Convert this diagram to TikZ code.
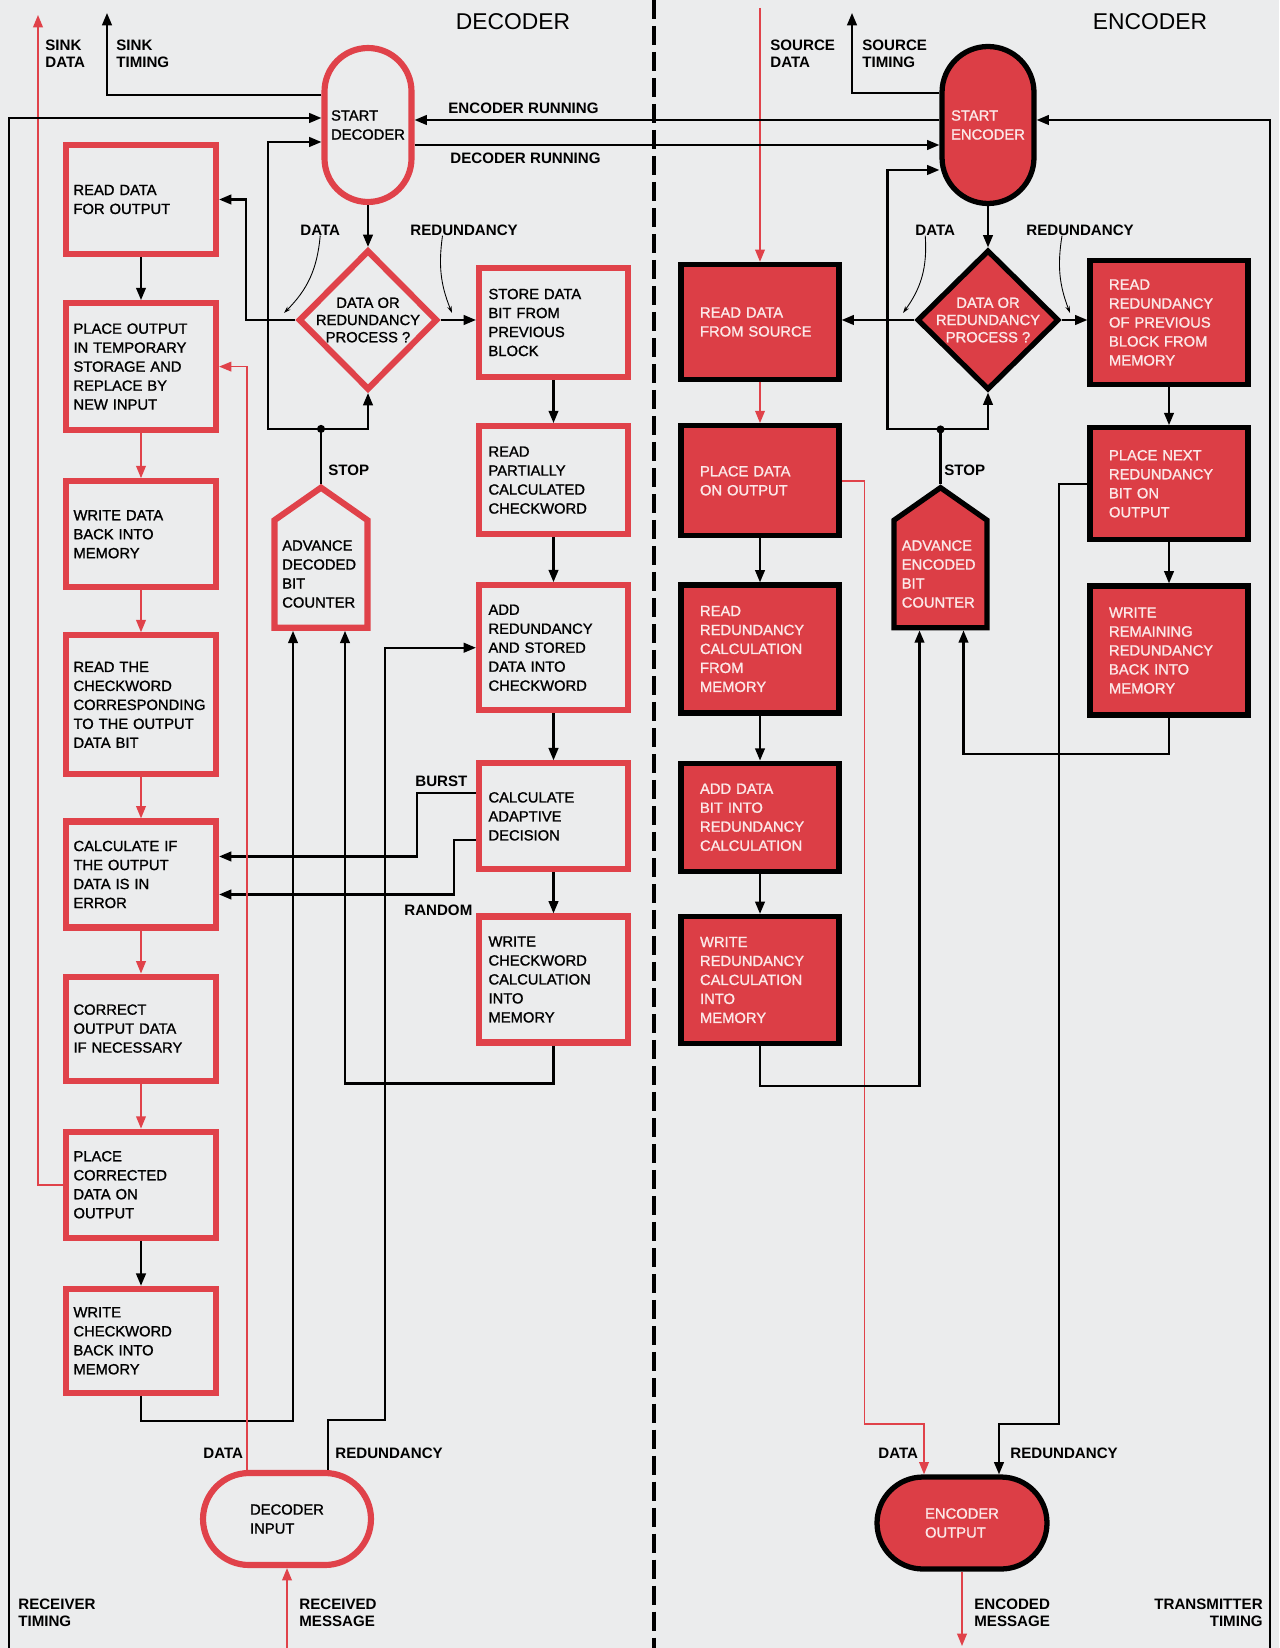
\documentclass[tikz,border=0pt]{standalone}
\usepackage{fontspec}
\setmainfont{Liberation Sans}
\usepackage{xcolor}
\usepackage{tikz}
\usetikzlibrary{calc, positioning, shapes.geometric, shapes.symbols, arrows.meta}

\definecolor{paper}{RGB}{235,236,237}
\definecolor{dred}{RGB}{224,66,74}
\definecolor{ered}{RGB}{220,62,70}
\definecolor{etext}{RGB}{252,232,232}

\begin{document}
\begin{tikzpicture}[x=0.02cm, y=-0.02cm, >={Stealth[length=7pt,width=5.5pt,inset=0pt]},
    boxtext/.style={font=\fontsize{8.4}{10.8}\selectfont\addfontfeature{FakeBold=1.2}, align=left},
    dbox/.style={boxtext, draw=dred, line width=3.5pt, text width=2.7cm, inner xsep=0.15cm, minimum width=3cm},
    dboxr/.style={dbox, text width=2.6cm, inner xsep=0.19cm, minimum width=2.98cm},
    ebox/.style={boxtext, draw=black, line width=3pt, fill=ered, text=etext, text width=2.4cm, inner xsep=0.38cm, minimum width=3.16cm},
    dstart/.style={boxtext, draw=dred, line width=3.5pt, rounded corners=0.87cm, minimum width=1.74cm, minimum height=3.08cm},
    estart/.style={boxtext, draw=black, line width=3pt, fill=ered, text=etext, rounded corners=0.92cm, minimum width=1.84cm, minimum height=3.14cm},
    ddiam/.style={diamond, aspect=1, draw=dred, line width=3.5pt, font=\fontsize{8.4}{9.8}\selectfont\addfontfeature{FakeBold=1.2}, align=center, inner sep=-4pt, minimum width=2.78cm, minimum height=2.8cm},
    ediam/.style={ddiam, draw=black, line width=3pt, fill=ered, text=etext, minimum width=2.84cm},
    dcount/.style={signal, signal to=north, signal from=nowhere, signal pointer angle=110, boxtext, draw=dred, line width=3.5pt, text width=1.55cm, inner xsep=0.15cm, minimum width=1.86cm, minimum height=2.8cm},
    ecount/.style={dcount, draw=black, line width=3pt, fill=ered, text=etext},
    lbl/.style={font=\fontsize{8.6}{9.6}\selectfont\bfseries, inner sep=0pt, anchor=west, align=left},
    ttl/.style={font=\fontsize{13}{15}\selectfont, inner sep=0pt},
    flow/.style={line width=1.2pt},
    rflow/.style={draw=dred, line width=0.9pt},
    ptr/.style={line width=0.5pt, -{Stealth[length=4pt,width=2.5pt]}}]

  \useasboundingbox (0,0) rectangle (1279,1648);
  \fill[paper] (0,0) rectangle (1279,1648);

  % divider between the two halves
  \draw[line width=1.8pt, dash pattern=on 0.38cm off 0.14cm] (654,0) -- (654,1648);

  \node[ttl] (dec_title) at (513,22) {DECODER};
  \node[ttl] (enc_title) at (1150,22) {ENCODER};

  % ---------------- decoder ----------------
  \node[dstart] (start_dec) at (368,125) {START\\DECODER};
  \node[ddiam] (diam_d) at (368,320) {DATA OR\\REDUNDANCY\\PROCESS ?};
  \node[dcount] (counter_d) at (321,574) {ADVANCE\\DECODED\\BIT\\COUNTER};

  \node[dbox, minimum height=2.18cm] (rd_out) at (141,199.5) {READ DATA\\FOR OUTPUT};
  \node[dbox, minimum height=2.54cm, below=0.86cm of rd_out] (place_out) {PLACE OUTPUT\\IN TEMPORARY\\STORAGE AND\\REPLACE BY\\NEW INPUT};
  \node[dbox, minimum height=2.12cm, below=0.9cm of place_out] (wr_data) {WRITE DATA\\BACK INTO\\MEMORY};
  \node[dbox, minimum height=2.78cm, below=0.84cm of wr_data] (rd_chk) {READ THE\\CHECKWORD\\CORRESPONDING\\TO THE OUTPUT\\DATA BIT};
  \node[dbox, minimum height=2.12cm, below=0.82cm of rd_chk] (calc_err) {CALCULATE IF\\THE OUTPUT\\DATA IS IN\\ERROR};
  \node[dbox, minimum height=2.08cm, below=0.86cm of calc_err] (correct) {CORRECT\\OUTPUT DATA\\IF NECESSARY};
  \node[dbox, minimum height=2.12cm, below=0.9cm of correct] (place_corr) {PLACE\\CORRECTED\\DATA ON\\OUTPUT};
  \node[dbox, minimum height=2.08cm, below=0.9cm of place_corr] (wr_chk) {WRITE\\CHECKWORD\\BACK INTO\\MEMORY};

  \node[dboxr, minimum height=2.18cm] (store_bit) at (553.5,322.5) {STORE DATA\\BIT FROM\\PREVIOUS\\BLOCK};
  \node[dboxr, minimum height=2.16cm, below=0.86cm of store_bit] (rd_part) {READ\\PARTIALLY\\CALCULATED\\CHECKWORD};
  \node[dboxr, minimum height=2.5cm, below=0.9cm of rd_part] (add_red) {ADD\\REDUNDANCY\\AND STORED\\DATA INTO\\CHECKWORD};
  \node[dboxr, minimum height=2.12cm, below=0.94cm of add_red] (calc_adapt) {CALCULATE\\ADAPTIVE\\DECISION};
  \node[dboxr, minimum height=2.52cm, below=0.82cm of calc_adapt] (wr_calc) {WRITE\\CHECKWORD\\CALCULATION\\INTO\\MEMORY};

  \node[dstart, rounded corners=0.92cm, minimum width=3.36cm, minimum height=1.84cm] (dec_in) at (287,1519) {DECODER\\INPUT};

  \coordinate (sink_d) at (38,15);
  \coordinate (sink_t) at (107,13);
  \coordinate (rx_t) at (9,1650);
  \coordinate (rcv_m) at (287,1650);
  \coordinate (data_dp) at (284,313);
  \coordinate (red_dp) at (452,313);
  \coordinate (stop_d) at ([yshift=1.1cm]counter_d.north);

  \node[lbl] (sink_dl) at (45,54) {SINK\\DATA};
  \node[lbl] (sink_tl) at (116,54) {SINK\\TIMING};
  \node[lbl] (enc_run) at (448,108) {ENCODER RUNNING};
  \node[lbl] (dec_run) at (450,158) {DECODER RUNNING};
  \node[lbl] (data_dl) at (300,230) {DATA};
  \node[lbl] (red_dl) at (410,230) {REDUNDANCY};
  \node[lbl] (stop_dl) at (328,470) {STOP};
  \node[lbl] (burst) at (415,781) {BURST};
  \node[lbl] (random) at (404,910) {RANDOM};
  \node[lbl] (data_il) at (203,1453) {DATA};
  \node[lbl] (red_il) at (335,1453) {REDUNDANCY};
  \node[lbl] (rx_tl) at (18,1613) {RECEIVER\\TIMING};
  \node[lbl] (rcv_ml) at (299,1613) {RECEIVED\\MESSAGE};

  \draw[flow,->] ([yshift=0.6cm]start_dec.west) -| (sink_t);
  \draw[rflow,->] (place_corr.west) -| (sink_d);
  \draw[flow,->] (rx_t) |- ([yshift=0.14cm]start_dec.west);
  \draw[flow,->] (start_dec.south) -- (diam_d.north);
  \draw[flow,->] (diam_d.west) -- ++(-49,0) |- (rd_out.east);
  \draw[flow,->] (diam_d.east) -- (diam_d.east -| store_bit.west);
  \draw[flow,->] (counter_d.north) -- (stop_d) -| (diam_d.south);
  \draw[flow,->] (stop_d) -- ++(-53,0) |- ([yshift=-0.34cm]start_dec.west);
  \fill (stop_d) circle (2.3pt);
  \draw[ptr] (data_dl.south) to[bend left=20] (data_dp);
  \draw[ptr] ([xshift=0.65cm]red_dl.south west) to[bend right=15] (red_dp);

  \draw[flow,->] (rd_out) -- (place_out);
  \draw[rflow,->] (place_out) -- (wr_data);
  \draw[rflow,->] (wr_data) -- (rd_chk);
  \draw[rflow,->] (rd_chk) -- (calc_err);
  \draw[rflow,->] (calc_err) -- (correct);
  \draw[rflow,->] (correct) -- (place_corr);
  \draw[flow,->] (place_corr) -- (wr_chk);

  \draw[flow,->] (store_bit) -- (rd_part);
  \draw[flow,->] (rd_part) -- (add_red);
  \draw[flow,->] (add_red) -- (calc_adapt);
  \draw[flow,->] (calc_adapt) -- (wr_calc);
  \draw[flow,->] ([yshift=0.46cm]calc_adapt.west) -- ++(-59,0) |- ([yshift=0.36cm]calc_err.east);
  \draw[flow,->] ([yshift=-0.48cm]calc_adapt.west) -- ++(-22,0) |- ([yshift=-0.4cm]calc_err.east);

  \draw[flow,->] (wr_chk.south) -- ++(0,25) -| ([xshift=-0.56cm]counter_d.south);
  \draw[flow,->] (wr_calc.south) -- ++(0,38) -| ([xshift=0.48cm]counter_d.south);
  \draw[flow,->] ([xshift=0.82cm]dec_in.north) -- ++(0,-50) -- ++(57,0) |- (add_red.west);
  \draw[rflow,->] ([xshift=-0.8cm]dec_in.north) |- (place_out.east);
  \draw[rflow,->] (rcv_m) -- (dec_in.south);

  % ---------------- encoder ----------------
  \node[estart] (start_enc) at (988,125) {START\\ENCODER};
  \node[ediam] (diam_e) at (988,320) {DATA OR\\REDUNDANCY\\PROCESS ?};
  \node[ecount] (counter_e) at (940.5,574) {ADVANCE\\ENCODED\\BIT\\COUNTER};

  \node[ebox, minimum height=2.3cm] (rd_src) at (760,322) {READ DATA\\FROM SOURCE};
  \node[ebox, minimum height=2.2cm, below=0.82cm of rd_src] (place_data) {PLACE DATA\\ON OUTPUT};
  \node[ebox, minimum height=2.56cm, below=0.88cm of place_data] (rd_calc) {READ\\REDUNDANCY\\CALCULATION\\FROM\\MEMORY};
  \node[ebox, minimum height=2.16cm, below=0.9cm of rd_calc] (add_bit) {ADD DATA\\BIT INTO\\REDUNDANCY\\CALCULATION};
  \node[ebox, minimum height=2.54cm, below=0.8cm of add_bit] (wr_red) {WRITE\\REDUNDANCY\\CALCULATION\\INTO\\MEMORY};

  \node[ebox, minimum height=2.48cm] (rd_prev) at (1169,322.5) {READ\\REDUNDANCY\\OF PREVIOUS\\BLOCK FROM\\MEMORY};
  \node[ebox, minimum height=2.24cm, below=0.76cm of rd_prev] (place_next) {PLACE NEXT\\REDUNDANCY\\BIT ON\\OUTPUT};
  \node[ebox, minimum height=2.58cm, below=0.82cm of place_next] (wr_rem) {WRITE\\REMAINING\\REDUNDANCY\\BACK INTO\\MEMORY};

  \node[estart, minimum width=3.4cm, minimum height=1.84cm] (enc_out) at (962,1523) {ENCODER\\OUTPUT};

  \coordinate (src_d) at (760,8);
  \coordinate (src_t) at (852,13);
  \coordinate (tx_t) at (1270,1650);
  \coordinate (enc_m) at (962,1646);
  \coordinate (data_ep) at (903,313);
  \coordinate (red_ep) at (1070,313);
  \coordinate (stop_e) at ([yshift=1.1cm]counter_e.north);

  \node[lbl] (src_dl) at (770,54) {SOURCE\\DATA};
  \node[lbl] (src_tl) at (862,54) {SOURCE\\TIMING};
  \node[lbl] (data_el) at (915,230) {DATA};
  \node[lbl] (red_el) at (1026,230) {REDUNDANCY};
  \node[lbl] (stop_el) at (944,470) {STOP};
  \node[lbl] (data_ol) at (878,1453) {DATA};
  \node[lbl] (red_ol) at (1010,1453) {REDUNDANCY};
  \node[lbl] (enc_ml) at (974,1613) {ENCODED\\MESSAGE};
  \node[lbl, anchor=east, align=right] (tx_tl) at (1263,1613) {TRANSMITTER\\TIMING};

  \draw[flow,->] ([yshift=0.64cm]start_enc.west) -| (src_t);
  \draw[rflow,->] (src_d) -- (rd_src.north);
  \draw[flow,->] ([yshift=0.1cm]start_enc.west) -- ([yshift=0.1cm]start_dec.east);
  \draw[flow,->] ([yshift=-0.4cm]start_dec.east) -- ([yshift=-0.4cm]start_enc.west);
  \draw[flow,->] (tx_t) |- ([yshift=0.1cm]start_enc.east);
  \draw[flow,->] (start_enc.south) -- (diam_e.north);
  \draw[flow,->] (diam_e.west) -- (diam_e.west -| rd_src.east);
  \draw[flow,->] (diam_e.east) -- (diam_e.east -| rd_prev.west);
  \draw[flow,->] (counter_e.north) -- (stop_e) -| (diam_e.south);
  \draw[flow,->] (stop_e) -- ++(-53,0) |- ([yshift=-0.9cm]start_enc.west);
  \fill (stop_e) circle (2.3pt);
  \draw[ptr] ([xshift=-0.2cm]data_el.south) to[bend left=20] (data_ep);
  \draw[ptr] ([xshift=0.72cm]red_el.south west) to[bend right=15] (red_ep);

  \draw[rflow,->] (rd_src) -- (place_data);
  \draw[flow,->] (place_data) -- (rd_calc);
  \draw[flow,->] (rd_calc) -- (add_bit);
  \draw[flow,->] (add_bit) -- (wr_red);
  \draw[flow,->] (rd_prev) -- (place_next);
  \draw[flow,->] (place_next) -- (wr_rem);

  \draw[rflow,->] (place_data.east) -| ++(23,943) -| ([xshift=-0.76cm]enc_out.north);
  \draw[flow,->] (place_next.west) -| ++(-28,940) -| ([xshift=0.74cm]enc_out.north);
  \draw[flow,->] (wr_rem.south) -- ++(0,36) -| ([xshift=0.46cm]counter_e.south);
  \draw[flow,->] (wr_red.south) -- ++(0,40) -| ([xshift=-0.42cm]counter_e.south);
  \draw[rflow,->] (enc_out.south) -- (enc_m);
\end{tikzpicture}
\end{document}
